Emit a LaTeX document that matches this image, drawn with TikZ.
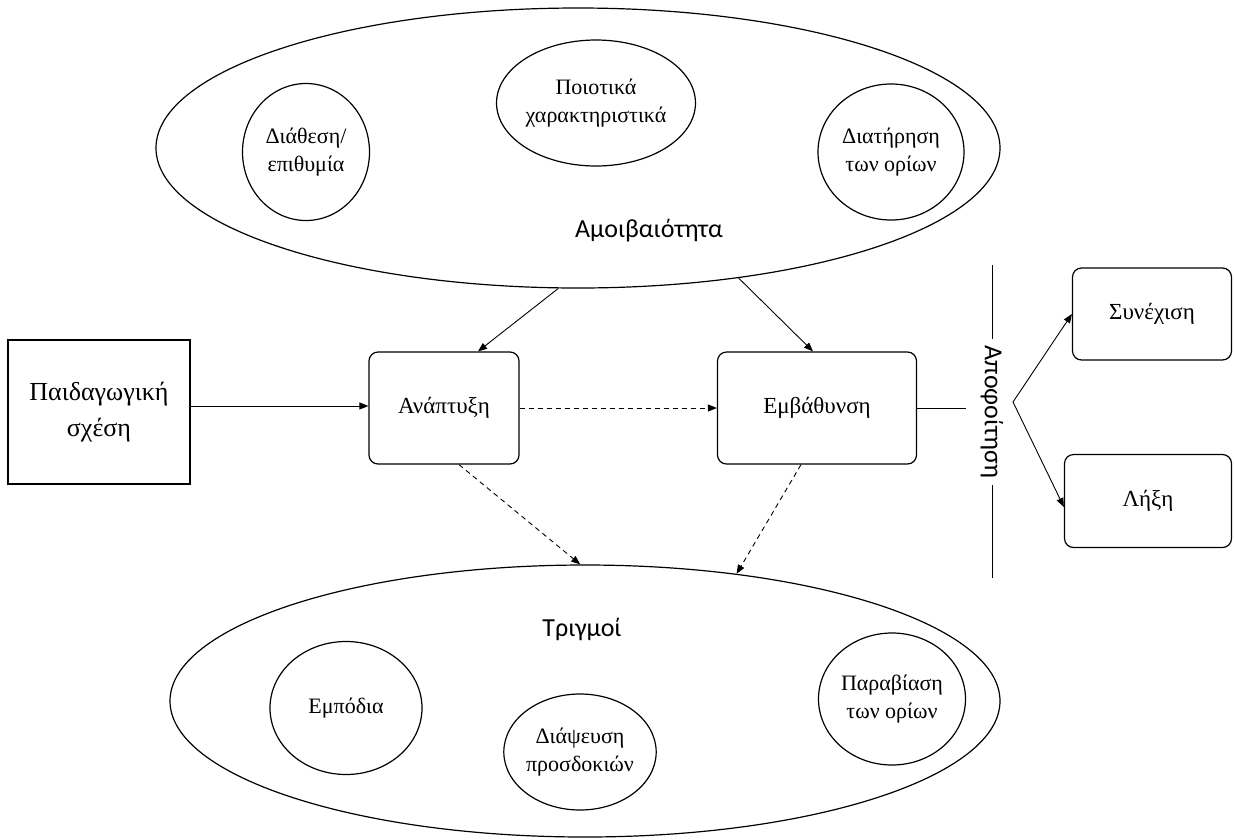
\documentclass[tikz,border=0pt]{standalone}
\usepackage{fontspec}
\setmainfont{Liberation Serif}
\newfontfamily\carl{Carlito}
\usetikzlibrary{shapes.geometric,arrows.meta}
\begin{document}
\begin{tikzpicture}[x=1pt,y=-1pt,
  line width=1.2pt,
  >={Triangle[length=9pt,width=7pt]},
  oval/.style={draw,ellipse,inner sep=0pt,align=center,font=\fontsize{22}{28}\selectfont},
  bigoval/.style={draw,ellipse,inner sep=0pt},
  rbox/.style={draw,rounded corners=9pt,inner sep=0pt,align=center,font=\fontsize{23}{28}\selectfont},
  sbox/.style={draw,inner sep=0pt,align=center,font=\fontsize{26}{36}\selectfont},
  lab/.style={font=\carl\fontsize{26}{30}\selectfont,inner sep=0pt},
  conn/.style={->,line width=0.9pt},
  dconn/.style={->,line width=0.9pt,dash pattern=on 5pt off 4pt}]
\useasboundingbox (0,0) rectangle (1234,839);
% top ellipse
\node[bigoval,minimum width=844pt,minimum height=280pt] (amoi) at (578,148) {};
\node[oval,minimum width=127pt,minimum height=137pt] (diath) at (306,152) {Διάθεση/\\επιθυμία};
\node[oval,minimum width=160pt,minimum height=126pt] (poiot) at (596,103) {Ποιοτικά\\χαρακτηριστικά};
\node[oval,minimum width=146pt,minimum height=136pt] (diat) at (891,152) {Διατήρηση\\των ορίων};
\node[lab] (amoilab) at (649,231) {Αμοιβαιότητα};
% middle
\node[sbox,minimum width=182pt,minimum height=144pt] (paid) at (99,412) {Παιδαγωγική\\σχέση};
\node[rbox,minimum width=150pt,minimum height=112pt] (anap) at (444,408) {Ανάπτυξη};
\node[rbox,minimum width=199pt,minimum height=112pt] (emb) at (817,408) {Εμβάθυνση};
\node[rbox,minimum width=159pt,minimum height=92pt] (syn) at (1152,314) {Συνέχιση};
\node[rbox,minimum width=167pt,minimum height=93pt] (lix) at (1148,501) {Λήξη};
\node[lab,rotate=-90,inner xsep=6pt] (apo) at (992,412) {Αποφοίτηση};
\coordinate (apotop) at (992,265);
\coordinate (apobot) at (992,578);
\coordinate (embend) at (966,408);
\coordinate (fork) at (1013,402);
% bottom ellipse
\node[bigoval,minimum width=830pt,minimum height=272pt] (trig) at (585,701) {};
\node[lab] (triglab) at (582,629) {Τριγμοί};
\node[oval,minimum width=152pt,minimum height=133pt] (empod) at (346,708) {Εμπόδια};
\node[oval,minimum width=150pt,minimum height=116pt] (diaps) at (580,752) {Διάψευση\\προσδοκιών};
\node[oval,minimum width=147pt,minimum height=132pt] (parab) at (892,699) {Παραβίαση\\των ορίων};
% connectors
\draw[conn] (amoi.262) -- (anap.north -| 478,0);
\draw[conn] (amoi.321) -- (emb.north -| 813,0);
\draw[conn] ([yshift=6pt]paid.east) -- ([yshift=2pt]anap.west);
\draw[dconn] (anap.east) -- (emb.west);
\draw[dconn] ([xshift=15pt]anap.south) -- (trig.92);
\draw[dconn] ([xshift=-16pt]emb.south) -- (trig.40);
\draw[line width=0.9pt] (emb.east) -- (embend);
\draw[line width=0.9pt] (apotop) -- (apo.west);
\draw[line width=0.9pt] (apo.east) -- (apobot);
\draw[conn] (fork) -- (syn.west);
\draw[conn] (fork) -- ([yshift=-6pt]lix.west);
\end{tikzpicture}
\end{document}
